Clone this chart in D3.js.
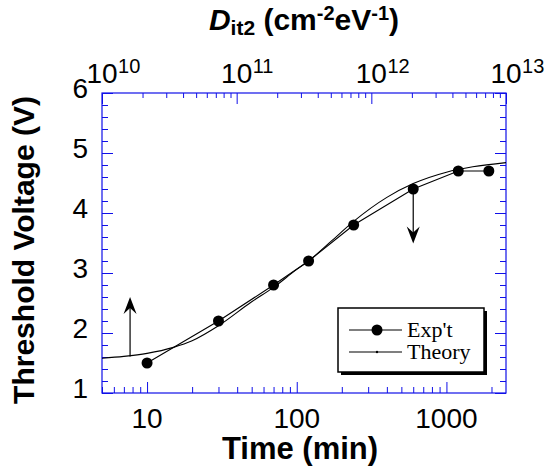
<!DOCTYPE html>
<html>
<head>
<meta charset="utf-8">
<script src="https://cdn.jsdelivr.net/npm/d3@7"></script>
<style>
  html, body { margin: 0; padding: 0; background: #fff; }
  svg { display: block; }
  .sans { font-family: "Liberation Sans", Arial, Helvetica, sans-serif; fill: #000; }
  .serif { font-family: "Liberation Serif", "Times New Roman", serif; fill: #000; }
</style>
</head>
<body>
<svg id="chart" width="545" height="474"></svg>
<script>
// Measured threshold voltage vs. stress time
const expTime = [10, 30, 70, 120, 240, 600, 1200, 1920];
const expVth  = [1.5, 2.2, 2.8, 3.2, 3.8, 4.4, 4.7, 4.7];

// Modelled threshold voltage
const theoryTime = [5, 7, 10, 15, 20, 30, 50, 70, 100, 120, 170, 240, 400, 600, 1000, 1500, 2500];
const theoryVth  = [1.58, 1.61, 1.66, 1.76, 1.87, 2.12, 2.52, 2.76, 3.06, 3.2, 3.53, 3.86, 4.26, 4.49, 4.68, 4.77, 4.84];

// Annotation arrows: time, start voltage, end voltage
const arrowTime = [7.7, 600];
const arrowFrom = [1.61, 4.4];
const arrowTo   = [2.6, 3.49];

// Axis ticks
const timeTicks = [10, 100, 1000];
const timeTickLabels = ["10", "100", "1000"];
const vthTicks = [1, 2, 3, 4, 5, 6];
const ditTicks = [1e10, 1e11, 1e12, 1e13];
const ditExponents = ["10", "11", "12", "13"];

const legendLabels = ["Exp't", "Theory"];

(function () {
const svg = d3.select("#chart");
const mLeft = 102, mRight = 506, mTop = 93, mBottom = 393;
const axisColor = "#1010e8";

const x = d3.scaleLog().domain([5, 2500]).range([mLeft, mRight]);
const xTop = d3.scaleLog().domain([1e10, 1e13]).range([mLeft, mRight]);
const y = d3.scaleLinear().domain([1, 6]).range([mBottom, mTop]);

// minor tick helpers
function logMinor(scale) {
  const [a, b] = scale.domain();
  const out = [];
  for (let e = Math.floor(Math.log10(a)); e <= Math.ceil(Math.log10(b)); e++) {
    for (let m = 2; m <= 9; m++) {
      const v = m * Math.pow(10, e);
      if (v >= a && v <= b) out.push(v);
    }
  }
  return out;
}
const vthMinor = d3.range(1.2, 6, 0.2).filter(v => Math.abs(v - Math.round(v)) > 1e-6);

function styleAxis(g) {
  g.select(".domain").remove();
  g.selectAll(".tick line").attr("stroke", axisColor).attr("stroke-width", 1);
  g.selectAll(".tick text").remove();
}

const axes = svg.append("g");
// bottom (time)
axes.append("g").attr("transform", `translate(0,${mBottom})`)
  .call(d3.axisBottom(x).tickValues(timeTicks).tickSize(-11).tickFormat(""))
  .call(styleAxis);
axes.append("g").attr("transform", `translate(0,${mBottom})`)
  .call(d3.axisBottom(x).tickValues(logMinor(x)).tickSize(-6).tickFormat(""))
  .call(styleAxis);
// top (Dit2)
axes.append("g").attr("transform", `translate(0,${mTop})`)
  .call(d3.axisTop(xTop).tickValues(ditTicks).tickSize(-11).tickFormat(""))
  .call(styleAxis);
axes.append("g").attr("transform", `translate(0,${mTop})`)
  .call(d3.axisTop(xTop).tickValues(logMinor(xTop)).tickSize(-5).tickFormat(""))
  .call(styleAxis);
// left and right (Vth)
[[d3.axisLeft, mLeft], [d3.axisRight, mRight]].forEach(([fn, pos]) => {
  axes.append("g").attr("transform", `translate(${pos},0)`)
    .call(fn(y).tickValues(vthTicks).tickSize(-11).tickFormat(""))
    .call(styleAxis);
  axes.append("g").attr("transform", `translate(${pos},0)`)
    .call(fn(y).tickValues(vthMinor).tickSize(-6).tickFormat(""))
    .call(styleAxis);
});

// frame
svg.append("rect")
  .attr("x", mLeft).attr("y", mTop)
  .attr("width", mRight - mLeft).attr("height", mBottom - mTop)
  .attr("fill", "none").attr("stroke", axisColor).attr("stroke-width", 1.2);

const tickFont = 28;
// bottom labels
svg.append("g").selectAll("text").data(timeTicks).join("text")
  .attr("class", "sans")
  .attr("x", d => x(d)).attr("y", mBottom + 35)
  .attr("text-anchor", "middle").attr("font-size", tickFont)
  .text((d, i) => timeTickLabels[i]);
// left labels
svg.append("g").selectAll("text").data(vthTicks).join("text")
  .attr("class", "sans")
  .attr("x", mLeft - 14).attr("y", d => y(d) + 5)
  .attr("text-anchor", "end").attr("font-size", tickFont)
  .text(d => d);
// top labels: 10 with superscript exponent
const topLab = svg.append("g");
ditTicks.forEach((d, i) => {
  const base = topLab.append("text")
    .attr("class", "sans")
    .attr("x", xTop(d)).attr("y", 83)
    .attr("text-anchor", "middle").attr("font-size", tickFont)
    .text("10");
  const w = base.node().getComputedTextLength();
  topLab.append("text")
    .attr("class", "sans")
    .attr("x", xTop(d) + w / 2 + 0.5).attr("y", 73)
    .attr("font-size", 20)
    .text(ditExponents[i]);
});

// axis titles
const titleFont = 30;
const t1 = svg.append("text")
  .attr("class", "sans")
  .attr("x", 304).attr("y", 30)
  .attr("text-anchor", "middle").attr("font-size", titleFont).attr("font-weight", "bold");
t1.append("tspan").attr("font-style", "italic").text("D");
t1.append("tspan").attr("font-size", 21).attr("dy", 5).text("it2");
t1.append("tspan").attr("dy", -5).text(" (cm");
t1.append("tspan").attr("font-size", 20).attr("dy", -10).text("-2");
t1.append("tspan").attr("dy", 10).text("eV");
t1.append("tspan").attr("font-size", 20).attr("dy", -10).text("-1");
t1.append("tspan").attr("dy", 10).text(")");

svg.append("text")
  .attr("class", "sans")
  .attr("x", 300).attr("y", 459)
  .attr("text-anchor", "middle").attr("font-size", 31).attr("font-weight", "bold")
  .text("Time (min)");

svg.append("text")
  .attr("class", "sans")
  .attr("transform", "translate(34,250) rotate(-90)")
  .attr("text-anchor", "middle").attr("font-size", titleFont).attr("font-weight", "bold")
  .text("Threshold Voltage (V)");

// data
const plot = svg.append("g");
const theory = theoryTime.map((t, i) => [t, theoryVth[i]]);
const exp = expTime.map((t, i) => [t, expVth[i]]);

plot.append("path")
  .datum(theory)
  .attr("fill", "none").attr("stroke", "#000").attr("stroke-width", 1.1)
  .attr("d", d3.line().x(d => x(d[0])).y(d => y(d[1])).curve(d3.curveMonotoneX));

plot.append("path")
  .datum(exp)
  .attr("fill", "none").attr("stroke", "#000").attr("stroke-width", 1.1)
  .attr("d", d3.line().x(d => x(d[0])).y(d => y(d[1])));

plot.selectAll("circle.pt").data(exp).join("circle")
  .attr("class", "pt")
  .attr("cx", d => x(d[0])).attr("cy", d => y(d[1])).attr("r", 5.5)
  .attr("fill", "#000");

// arrows
arrowTime.forEach((t, i) => {
  const ax = x(t), y0 = y(arrowFrom[i]), y1 = y(arrowTo[i]);
  const dir = y1 < y0 ? 1 : -1; // 1 = pointing up
  plot.append("line")
    .attr("x1", ax).attr("x2", ax).attr("y1", y0).attr("y2", y1 + dir * 8)
    .attr("stroke", "#000").attr("stroke-width", 1.2);
  const L = 17, W = 6.5, N = 11;
  plot.append("path")
    .attr("d", `M${ax},${y1} L${ax - W},${y1 + dir * L} L${ax},${y1 + dir * N} L${ax + W},${y1 + dir * L} Z`)
    .attr("fill", "#000");
});

// legend
const lg = svg.append("g");
const lx = 338, ly = 308, lw = 146, lh = 64;
lg.append("rect").attr("x", lx + 3).attr("y", ly + 3).attr("width", lw).attr("height", lh).attr("fill", "#000");
lg.append("rect").attr("x", lx).attr("y", ly).attr("width", lw).attr("height", lh)
  .attr("fill", "#fff").attr("stroke", "#000").attr("stroke-width", 1.5);
const rows = [ly + 22, ly + 44];
legendLabels.forEach((lab, i) => {
  lg.append("line").attr("x1", lx + 11).attr("x2", lx + 64)
    .attr("y1", rows[i]).attr("y2", rows[i]).attr("stroke", "#000").attr("stroke-width", 1.1);
  lg.append("text").attr("class", "serif").attr("x", lx + 69).attr("y", rows[i] + 7)
    .attr("font-size", 22).text(lab);
});
lg.append("circle").attr("cx", lx + 39).attr("cy", rows[0]).attr("r", 5.5).attr("fill", "#000");
lg.append("circle").attr("cx", lx + 39).attr("cy", rows[1]).attr("r", 1.2).attr("fill", "#000");
})();
</script>
</body>
</html>
